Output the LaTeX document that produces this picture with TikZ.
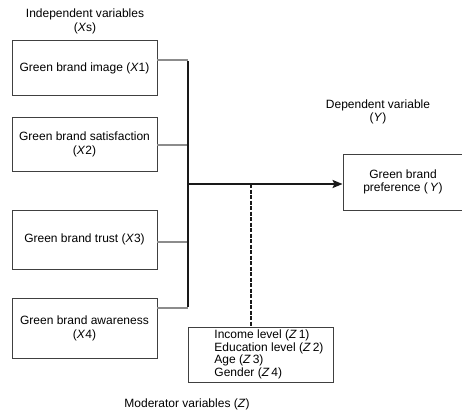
\documentclass[tikz,border=0pt]{standalone}
\usepackage{fontspec}
\setmainfont{Liberation Sans}
\usetikzlibrary{arrows.meta}
\tikzset{
  varbox/.style={draw=black!75, line width=0.9pt, minimum width=145pt, inner sep=2pt, align=center, font=\fontsize{12}{14}\selectfont},
  lbl/.style={align=center, inner sep=0pt, font=\fontsize{12}{13.5}\selectfont},
  feed/.style={draw=black!45, line width=2.4pt},
  bus/.style={draw=black!90, line width=2pt},
}
\begin{document}
\begin{tikzpicture}[x=1pt,y=-1pt]
\useasboundingbox (0,0) rectangle (462,412);
% labels
\node[lbl] (indep) at (85,21.5) {Independent variables\\(\textit{X}s)};
\node[lbl] (dep) at (378,112) {Dependent variable\\(\textit{Y})};
\node[lbl, anchor=base] (moder) at (187,407) {Moderator variables (\textit{Z})};
% independent boxes
\node[varbox, minimum height=55pt] (x1) at (84.5,68) {Green brand image (\textit{X}1)};
\node[varbox, minimum height=54.5pt] (x2) at (84.5,144.5) {Green brand satisfaction\\(\textit{X}2)};
\node[varbox, minimum height=59.5pt] (x3) at (84.5,239.7) {Green brand trust (\textit{X}3)};
\node[varbox, minimum height=60pt] (x4) at (84.5,328.3) {Green brand awareness\\(\textit{X}4)};
% dependent box
\node[varbox, minimum width=120pt, minimum height=56pt, font=\fontsize{12}{13.5}\selectfont] (y) at (403,182) {Green brand\\preference (\,\textit{Y})};
% moderator box
\node[draw=black!75, line width=0.9pt, anchor=north west, inner xsep=0pt, inner ysep=2pt, minimum width=145pt, minimum height=55pt, font=\fontsize{12}{12.5}\selectfont] (z) at (188,327)
  {\begin{tabular}{@{\hspace{25pt}}l@{\hspace{9pt}}}Income level (\textit{Z}\,1)\\Education level (\textit{Z}\,2)\\Age (\textit{Z}\,3)\\Gender (\textit{Z}\,4)\end{tabular}};
% bus coordinates
\coordinate (b1) at (187.5,60);
\coordinate (b2) at (187.5,145);
\coordinate (b3) at (187.5,242);
\coordinate (b4) at (187.5,308);
\coordinate (j) at (187.5,184);
\coordinate (d) at (250.7,184);
% feeders
\draw[feed] (x1.east |- b1) -- (b1);
\draw[feed] (x2.east |- b2) -- (b2);
\draw[feed] (x3.east |- b3) -- (b3);
\draw[feed] (x4.east |- b4) -- (b4);
\draw[bus] ([yshift=-1.2pt]b1) -- ([yshift=1.2pt]b4);
% arrow to Y
\draw[bus, -{Stealth[length=10pt,width=8pt,inset=2pt]}] (j) -- (j -| y.west);
% dashed moderator link
\draw[black!90, line width=1.6pt, dash pattern=on 4pt off 1.5pt] (d) -- (d |- z.north);
\end{tikzpicture}
\end{document}
